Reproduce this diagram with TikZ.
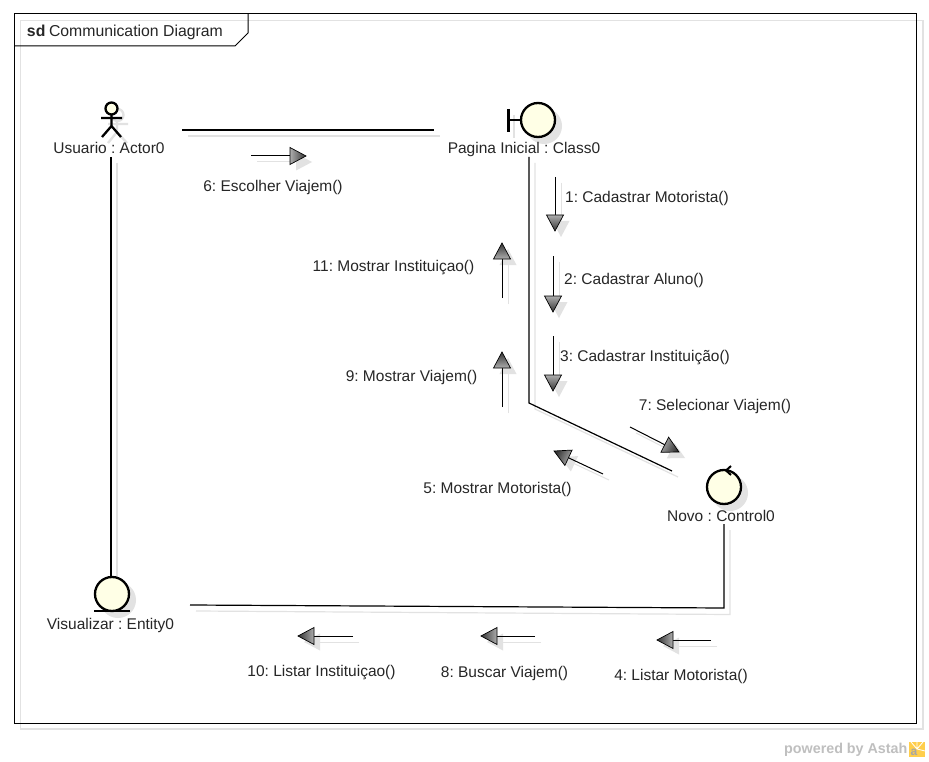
\documentclass[tikz,border=0pt]{standalone}
\usepackage{fontspec}
\setmainfont{Liberation Sans}
\usetikzlibrary{calc}
\definecolor{shadowgray}{HTML}{E2E2E2}
\definecolor{cream}{HTML}{FFFFE6}
\definecolor{labelink}{HTML}{262626}
\tikzset{
  box/.style={draw=none,inner sep=0pt,outer sep=0pt,minimum width=#1},
  lbl/.style={inner sep=0pt,outer sep=0pt,text=labelink,text height=11.5pt,text depth=3.5pt,font=\fontsize{15.5}{18}\selectfont\frenchspacing},
  ttl/.style={lbl,anchor=west,font=\fontsize{15.8}{18}\selectfont\frenchspacing},
  link/.style={draw=black,line width=1.2pt},
  linkshadow/.style={draw=shadowgray,line width=1.2pt},
  icon/.style={draw=black,line width=2.3pt},
  iconshadow/.style={draw=none,fill=shadowgray},
  msgline/.style={draw=black,line width=1pt},
}
% \msg{id}{x1}{y1}{x2}{y2}: message arrow from (x1,y1) to tip (x2,y2)
\newcommand{\msg}[5]{%
  \pgfmathsetmacro{\mlen}{veclen(#4-#2,#5-#3)}%
  \pgfmathsetmacro{\mux}{(#4-#2)/\mlen}%
  \pgfmathsetmacro{\muy}{(#5-#3)/\mlen}%
  \pgfmathsetmacro{\mang}{atan2(-(#5-#3),#4-#2)+90}%
  \coordinate (#1-s) at (#2,#3);
  \coordinate (#1-t) at (#4,#5);
  \coordinate (#1-b) at ({#4-16*\mux},{#5-16*\muy});
  \coordinate (#1-l) at ({#4-16*\mux-8.5*\muy},{#5-16*\muy+8.5*\mux});
  \coordinate (#1-r) at ({#4-16*\mux+8.5*\muy},{#5-16*\muy-8.5*\mux});
  \draw[draw=shadowgray,line width=1pt] ($(#1-s)+(6,6)$) -- ($(#1-b)+(6,6)$);
  \fill[shadowgray] ($(#1-t)+(6,6)$) -- ($(#1-l)+(6,6)$) -- ($(#1-r)+(6,6)$) -- cycle;
  \draw[msgline] (#1-s) -- (#1-b);
  \path[draw=black,line width=.7pt,shading=axis,top color=black!32,bottom color=black!80,shading angle=\mang] (#1-t) -- (#1-l) -- (#1-r) -- cycle;
}
\begin{document}
\begin{tikzpicture}[x=1pt,y=-1pt]
\useasboundingbox (0,0) rectangle (929,762);
\fill[white] (0,0) rectangle (929,762);

% frame
\draw[shadowgray,line width=1.2pt] (20.5,20.5) rectangle (923,729);
\draw[black,line width=1pt] (14,14) rectangle (916,723);
\fill[white] (15,15) -- (247,15) -- (247,33) -- (235,45) -- (15,45) -- cycle;
\draw[shadowgray,line width=1.2pt] (20.5,45) -- (20.5,20.5) -- (247,20.5);
\draw[black,line width=1pt] (14,46) -- (235,46) -- (248,33) -- (248,14);
\node[ttl] (sdtag) at (27,33) {\textbf{sd}};
\node[ttl] (sdtitle) at (49,33) {Communication Diagram};

% object boxes (link end points)
\node[box=142pt,minimum height=54pt] (usuario) at (111,130) {};
\node[box=190pt,minimum height=54pt] (pagina) at (529,130) {};
\node[box=104pt,minimum height=53pt] (novo) at (724,497.5) {};
\node[box=158pt,minimum height=54pt] (visualizar) at (111,605) {};

% link shadows
\draw[linkshadow] ($(usuario.east)+(6,6)$) -- ($(pagina.west)+(6,6)$);
\draw[linkshadow] ($(usuario.south)+(6,6)$) -- ($(visualizar.north)+(6,6)$);
\draw[linkshadow] ($(pagina.south)+(6,6)$) -- (535,409) -- ($(novo.north west)+(6,6)$);
\draw[linkshadow] ($(novo.south)+(6,6)$) -- (730,614.5) -- ($(visualizar.east)+(6,6)$);

% links
\draw[link] (usuario.east) -- (pagina.west);
\draw[link] (usuario.south) -- (visualizar.north);
\draw[link] (pagina.south) -- (529,403) -- (novo.north west);
\draw[link] (novo.south) -- (724,608) -- (visualizar.east);

% actor
\begin{scope}[shift={(6,6)},shadowgray,line width=2.3pt]
  \draw (111,115) -- (111,126) (102,118) -- (122,118) (111,126) -- (102,137) (111,126) -- (121,137);
  \draw (111.5,109) circle[radius=6];
\end{scope}
\draw[icon] (111.5,115) -- (111.5,126) (101,118) -- (122,118) (111.5,126) -- (102,137) (111.5,126) -- (121,137);
\draw[icon,fill=cream] (111.5,108.5) circle[radius=6];

% boundary
\fill[iconshadow] (544,126) circle[radius=18];
\draw[shadowgray,line width=2.2pt] (514,115) -- (514,138);
\draw[icon] (508.5,109) -- (508.5,132) (508.5,120) -- (521,120);
\draw[icon,fill=cream] (538,120) circle[radius=17];

% control
\fill[iconshadow] (730,493) circle[radius=18];
\draw[icon,fill=cream] (724,487) circle[radius=17];
\draw[black,line width=2pt] (731,466) -- (726,470.5) -- (731,475);

% entity
\fill[iconshadow] (118,600) circle[radius=18];
\draw[icon,fill=cream] (112,594) circle[radius=17];
\draw[icon] (94,611) -- (130,611);

% object labels
\node[lbl] (lblusuario) at (109,150) {Usuario : Actor0};
\node[lbl] (lblpagina) at (524,150) {Pagina Inicial : Class0};
\node[lbl] (lblnovo) at (721,517) {Novo : Control0};
\node[lbl] (lblvisualizar) at (110.5,625) {Visualizar : Entity0};

% messages
\msg{m6}{251}{156}{306}{156}
\msg{m1}{555}{177}{555}{231}
\msg{m2}{553}{256}{553}{312}
\msg{m3}{553}{336}{553}{391}
\msg{m11}{502}{298}{502}{243}
\msg{m9}{502}{407}{502}{352}
\msg{m7}{630}{427}{679}{452}
\msg{m5}{603}{474}{554}{451}
\msg{m10}{353}{636}{298}{636}
\msg{m8}{535}{636}{481}{636}
\msg{m4}{711}{640}{657}{640}

\node[lbl] (l6) at (273,188) {6: Escolher Viajem()};
\node[lbl] (l1) at (647,199) {1: Cadastrar Motorista()};
\node[lbl] (l2) at (634,280) {2: Cadastrar Aluno()};
\node[lbl] (l3) at (645,357) {3: Cadastrar Instituição()};
\node[lbl] (l11) at (393.5,267) {11: Mostrar Instituiçao()};
\node[lbl] (l9) at (411.5,377) {9: Mostrar Viajem()};
\node[lbl] (l7) at (715,406) {7: Selecionar Viajem()};
\node[lbl] (l5) at (497.5,489) {5: Mostrar Motorista()};
\node[lbl] (l10) at (321.5,672) {10: Listar Instituiçao()};
\node[lbl] (l8) at (504.5,673) {8: Buscar Viajem()};
\node[lbl] (l4) at (681,676) {4: Listar Motorista()};

% watermark
\node[inner sep=0pt,anchor=west,text=black!25,font=\fontsize{14.3}{16}\selectfont\bfseries] (wm) at (784,750) {powered by Astah};
\fill[orange!55!yellow!70] (909,742) rectangle (925,757);
\draw[white,line width=.8pt] (917,749) -- (911,742) (917,749) -- (917,742) (917,749) -- (923,742) (917,749) -- (925,751);
\node[inner sep=0pt,text=black!35,font=\fontsize{12}{12}\selectfont\bfseries] (wmlogo) at (914,752) {a};
\end{tikzpicture}
\end{document}
